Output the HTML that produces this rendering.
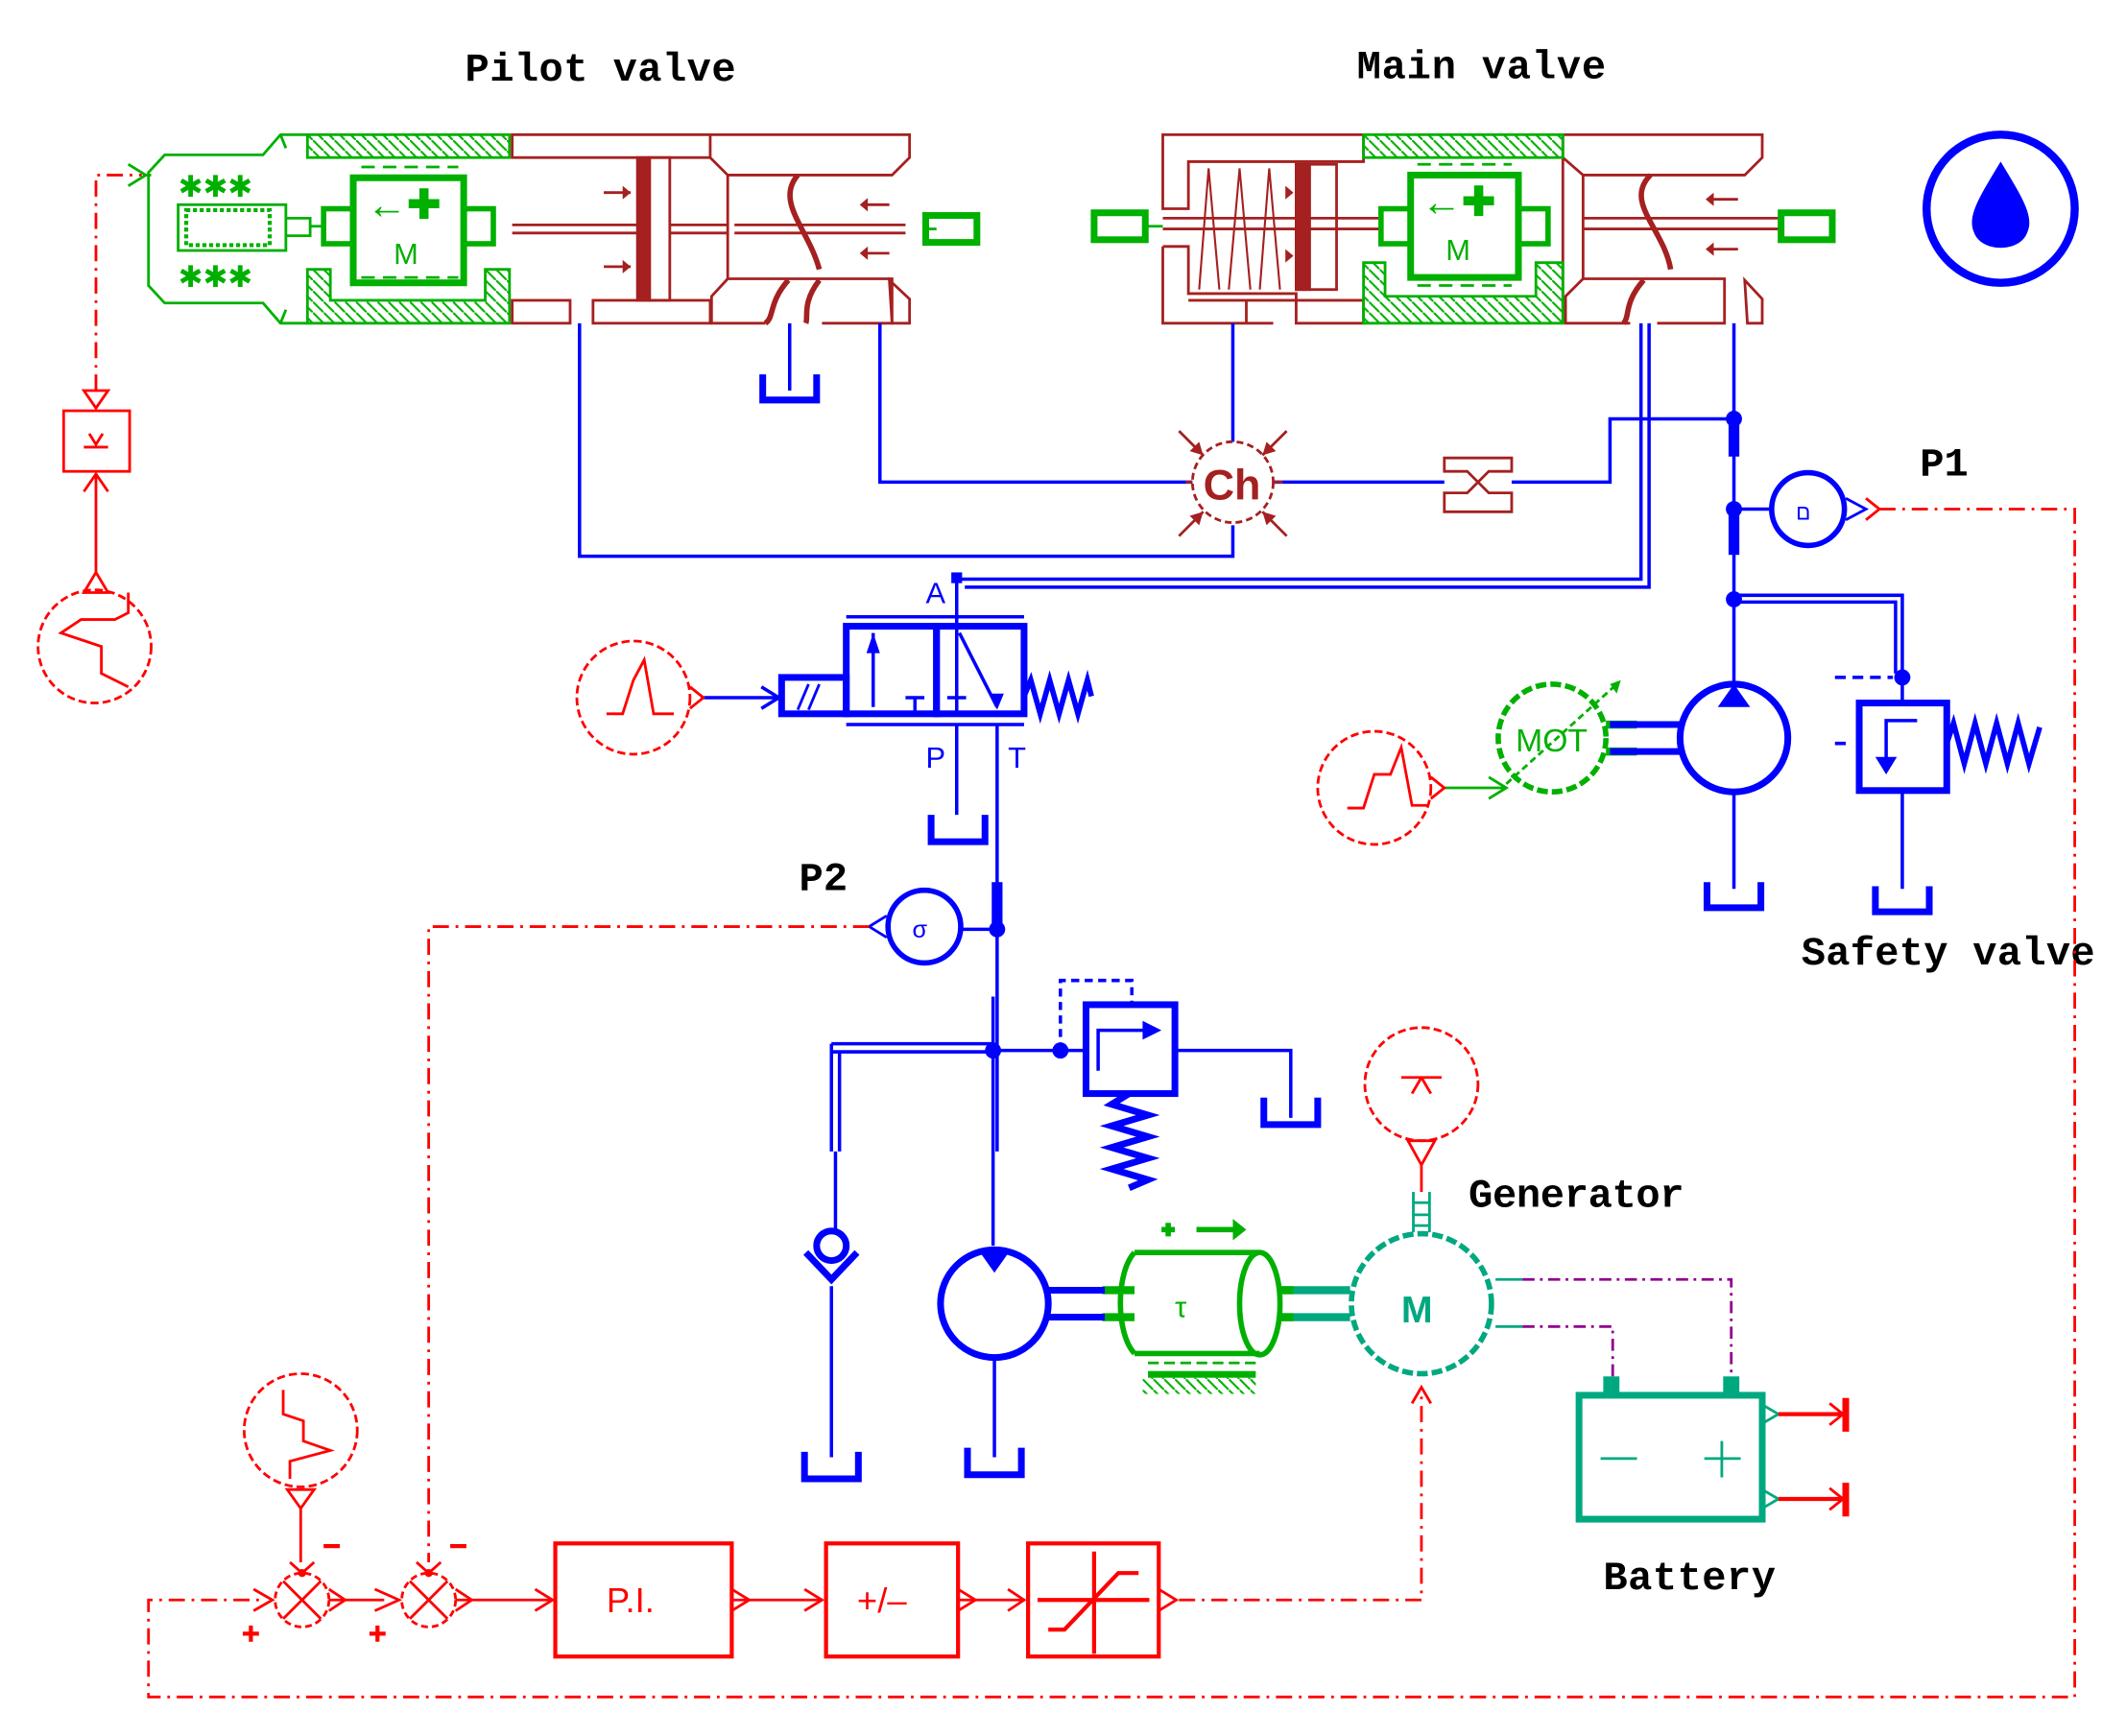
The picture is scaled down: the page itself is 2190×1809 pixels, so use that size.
<!DOCTYPE html>
<html><head><meta charset="utf-8"><style>html,body{margin:0;padding:0;background:#fff}svg{display:block}</style></head><body>
<svg width="2190" height="1809" viewBox="0 0 1560 1289" xmlns="http://www.w3.org/2000/svg">
<defs>
<pattern id="h" width="8" height="8" patternUnits="userSpaceOnUse"><path d="M0,0 L8,8" stroke="#00b000" stroke-width="1.5"/></pattern>
</defs>
<g font-family="Liberation Mono, monospace" font-weight="bold" font-size="30" fill="#000">
<text x="345" y="60" textLength="201">Pilot valve</text>
<text x="1007" y="58" textLength="185">Main valve</text>
<text x="1425" y="353">P1</text>
<text x="593" y="661">P2</text>
<text x="1337" y="716" textLength="218">Safety valve</text>
<text x="1090" y="896" textLength="160">Generator</text>
<text x="1190" y="1180" textLength="128">Battery</text>
</g>

<!-- PILOT VALVE -->
<g fill="none" stroke="#00b000" stroke-width="2">
<path d="M228,100 L208,100 L195,115 L122,115 L110,128 L110,212 L122,225 L195,225 L208,240 L228,240"/>
<rect x="228" y="100" width="150" height="17" fill="url(#h)"/>
<path d="M228,200 L245,200 L245,223 L360,223 L360,200 L378,200 L378,240 L228,240 Z" fill="url(#h)"/>
<rect x="262" y="132" width="82" height="78" stroke-width="5"/>
<rect x="240" y="155" width="22" height="26" stroke-width="4"/>
<rect x="344" y="155" width="22" height="26" stroke-width="4"/>
<path d="M268,124 H340 M268,206 H340" stroke-dasharray="10,6"/>
<rect x="132" y="152" width="80" height="34"/>
<rect x="138" y="156" width="62" height="26" stroke-dasharray="3,2" stroke-width="3"/>
<path d="M212,162 H230 V175 H212 M230,168 H240"/>
<path d="M685,170 H695"/>
<rect x="687" y="160" width="38" height="20" stroke-width="5"/>
<path d="M212,110 L208,100 M208,240 L212,230"/>
</g>
<g fill="#00b000" font-family="Liberation Sans, sans-serif" font-size="22">
<text x="292" y="196">M</text>
<text x="272" y="162" font-weight="bold" font-size="30">←✚</text>
<text x="132" y="146" font-size="22">✱✱✱</text>
<text x="132" y="213" font-size="22">✱✱✱</text>
</g>
<g fill="none" stroke="#a52020" stroke-width="2">
<rect x="380" y="100" width="147" height="17"/>
<path d="M527,100 H675 V117 L662,130 H540 V207 H662 V240 H610 M540,207 L528,220 V240 H568 M527,117 L540,130"/>
<rect x="380" y="223" width="43" height="17"/>
<rect x="440" y="223" width="87" height="17"/>
<rect x="473" y="117" width="9" height="106" fill="#a52020"/>
<rect x="482" y="117" width="15" height="106"/>
<path d="M380,167 H473 M380,173 H473 M497,167 H540 M497,173 H540 M545,167 H672 M545,173 H672"/>
<path d="M592,130 C575,150 600,170 608,200 M585,208 C570,225 575,235 568,240 M608,208 C595,225 600,235 598,240" stroke-width="4"/>
<path d="M660,208 L675,222 V240 H662 Z"/>
<path d="M448,143 H468 M448,198 H468 M640,152 H660 M640,188 H660"/>
</g>
<g fill="#a52020"><path d="M468,143 l-6,-5 v10z M468,198 l-6,-5 v10z M638,152 l6,-5 v10z M638,188 l6,-5 v10z"/></g>

<!-- MAIN VALVE -->
<g fill="none" stroke="#a52020" stroke-width="2">
<path d="M863,100 H1012 V120 H882 V155 H863 Z M863,183 H882 V218 H962 V240 H1012 V223 H882 M863,183 V240 H945 M925,240 V223"/>
<rect x="962" y="122" width="30" height="93"/>
<rect x="962" y="122" width="10" height="93" fill="#a52020"/>
<path d="M863,162 H1025 M863,170 H1025"/>
<path d="M890,215 L897,125 L905,215 M912,215 L920,125 L928,215 M935,215 L942,125 L950,215" stroke-width="1.5"/>
<path d="M1160,100 H1308 V117 L1295,130 H1175 V207 H1280 V240 H1230 M1175,207 L1162,220 V240 H1210 M1160,117 L1175,130 M1160,100 V240"/>
<path d="M1175,162 H1320 M1175,170 H1320"/>
<path d="M1225,130 C1205,150 1235,170 1240,200 M1220,208 C1205,225 1210,235 1205,240" stroke-width="4"/>
<path d="M1295,208 L1308,222 V240 H1297 Z"/>
<path d="M1268,148 H1290 M1268,185 H1290"/>
</g>
<g fill="#a52020"><path d="M1266,148 l6,-5 v10z M1266,185 l6,-5 v10z M960,143 l-6,-5 v10z M960,190 l-6,-5 v10z"/></g>
<g fill="none" stroke="#00b000" stroke-width="2">
<rect x="1012" y="100" width="148" height="17" fill="url(#h)"/>
<path d="M1012,195 H1028 V220 H1140 V195 H1160 V240 H1012 Z" fill="url(#h)"/>
<rect x="1047" y="130" width="80" height="76" stroke-width="5"/>
<rect x="1025" y="155" width="22" height="26" stroke-width="4"/>
<rect x="1127" y="155" width="22" height="26" stroke-width="4"/>
<path d="M1052,122 H1122 M1052,212 H1122" stroke-dasharray="10,6"/>
<rect x="812" y="158" width="38" height="20" stroke-width="5"/>
<path d="M850,168 H863"/>
<rect x="1322" y="158" width="38" height="20" stroke-width="5"/>
</g>
<g fill="#00b000" font-family="Liberation Sans, sans-serif" font-size="22">
<text x="1073" y="193">M</text>
<text x="1055" y="160" font-weight="bold" font-size="30">←✚</text>
</g>

<!-- water drop -->
<circle cx="1485" cy="155" r="55" fill="none" stroke="#0000ff" stroke-width="6"/>
<path d="M1485,120 C1470,145 1460,160 1465,172 C1470,188 1500,188 1505,172 C1510,160 1500,145 1485,120Z" fill="#0000ff"/>

<!-- BLUE HYDRAULIC LINES -->
<g fill="none" stroke="#0000ff" stroke-width="2.5">
<path d="M430,240 V413 H915 V390"/>
<path d="M653,240 V358 H885"/>
<path d="M945,358 H1072 M1122,358 H1195 V311 H1287"/>
<path d="M915,240 V328"/>
<path d="M1218,240 V430 H710 M1224,240 V436 H716"/>
<path d="M710,430 V530 M710,538 V605"/>
<path d="M740,538 V855"/>
<path d="M1287,240 V508"/>
<path d="M1287,378 H1314"/>
<path d="M1287,442 H1412 V503 M1287,447 H1407 V500"/>
<path d="M1412,503 V522 M1412,587 V660"/>
<path d="M1287,590 V660"/>
<path d="M740,690 H714"/>
<path d="M737,740 V925 M617,775 H737 M617,781 H737 M617,775 V855 M623,781 V855 M620,855 V915 M617,955 V1082"/>
<path d="M737,780 H806 M872,780 H958 V830"/>
<path d="M787,780 V728 H840 V746" stroke-dasharray="6,4"/>
<path d="M738,1008 V1082"/>
<path d="M1195,538 H1247 M1195,558 H1247"/>
<path d="M775,958 H835 M775,978 H835"/>
<path d="M1362,503 H1405 M1362,552 H1375" stroke-dasharray="8,5"/>
</g>
<g fill="#0000ff">
<circle cx="1287" cy="311" r="6"/><circle cx="1287" cy="378" r="6"/><circle cx="1287" cy="445" r="6"/>
<circle cx="1412" cy="503" r="6"/><circle cx="740" cy="690" r="6"/><circle cx="737" cy="780" r="6"/><circle cx="787" cy="780" r="6"/>
<rect x="1283" y="311" width="8" height="28"/><rect x="1283" y="382" width="8" height="30"/>
<rect x="736" y="655" width="8" height="34"/>
<rect x="706" y="425" width="8" height="8"/>
</g>
<!-- tanks -->
<g fill="none" stroke="#0000ff" stroke-width="5">
<path d="M566,278 V297 H606 V278"/>
<path d="M691,605 V625 H731 V605"/>
<path d="M1267,655 V674 H1307 V655"/>
<path d="M1392,658 V677 H1432 V658"/>
<path d="M938,815 V835 H978 V815"/>
<path d="M597,1078 V1098 H637 V1078"/>
<path d="M718,1075 V1095 H758 V1075"/>
</g>
<path d="M586,240 V290" stroke="#0000ff" stroke-width="2.5"/>
<!-- directional valve -->
<g fill="none" stroke="#0000ff">
<rect x="580" y="503" width="48" height="27" stroke-width="5"/>
<rect x="628" y="465" width="67" height="65" stroke-width="5"/>
<rect x="695" y="465" width="65" height="65" stroke-width="5"/>
<path d="M628,458 H760 M628,538 H760" stroke-width="2.5"/>
<path d="M592,527 L600,508 M600,527 L608,508" stroke-width="2"/>
<path d="M648,470 V525 M672,518 H686 M679,518 V528 M703,518 H717 M710,518 V528 M712,470 L740,525" stroke-width="2.5"/>
<path d="M760,517 L765,505 L772,530 L779,505 L786,530 L793,505 L800,530 L807,505 L810,517" stroke-width="4"/>
<path d="M520,518 H578 M565,510 L578,518 L565,526" stroke-width="2.5"/>
</g>
<path d="M643,485 L648,470 L653,485Z M735,515 L740,527 L745,515Z" fill="#0000ff"/>
<g fill="#0000ff" font-family="Liberation Sans, sans-serif" font-size="22"><text x="687" y="448">A</text><text x="687" y="570">P</text><text x="748" y="570">T</text></g>
<!-- pump top right -->
<circle cx="1287" cy="548" r="40" fill="none" stroke="#0000ff" stroke-width="5"/>
<path d="M1275,525 L1287,508 L1299,525Z" fill="#0000ff"/>
<!-- safety relief -->
<rect x="1380" y="522" width="65" height="65" fill="none" stroke="#0000ff" stroke-width="5"/>
<path d="M1423,535 H1400 V570" stroke="#0000ff" stroke-width="2.5" fill="none"/>
<path d="M1392,562 L1400,575 L1408,562Z" fill="#0000ff"/>
<path d="M1445,552 L1450,537 L1458,567 L1466,537 L1474,567 L1482,537 L1490,567 L1498,537 L1506,567 L1514,540" fill="none" stroke="#0000ff" stroke-width="4"/>
<!-- P1 sensor -->
<circle cx="1342" cy="378" r="27" fill="none" stroke="#0000ff" stroke-width="4"/>
<path d="M1370,370 L1385,378 L1370,386" fill="none" stroke="#0000ff" stroke-width="2"/>
<text x="1333" y="386" fill="#0000ff" font-family="Liberation Sans" font-size="16">ם</text>
<!-- P2 sensor -->
<circle cx="686" cy="688" r="27" fill="none" stroke="#0000ff" stroke-width="4"/>
<path d="M658,680 L645,688 L658,696" fill="none" stroke="#0000ff" stroke-width="2"/>
<text x="677" y="696" fill="#0000ff" font-family="Liberation Sans" font-size="18">σ</text>
<!-- relief lower -->
<rect x="806" y="746" width="66" height="66" fill="none" stroke="#0000ff" stroke-width="5"/>
<path d="M815,795 V765 H855" fill="none" stroke="#0000ff" stroke-width="2.5"/>
<path d="M848,758 L862,765 L848,772Z" fill="#0000ff"/>
<path d="M838,812 L825,820 L852,828 L825,836 L852,844 L825,852 L852,860 L825,868 L852,876 L838,882" fill="none" stroke="#0000ff" stroke-width="5"/>
<!-- check valve -->
<circle cx="617" cy="925" r="11" fill="none" stroke="#0000ff" stroke-width="5"/>
<path d="M598,930 L617,950 L636,930" fill="none" stroke="#0000ff" stroke-width="5"/>
<!-- pump lower -->
<circle cx="738" cy="968" r="40" fill="none" stroke="#0000ff" stroke-width="5"/>
<path d="M726,928 L738,945 L750,928Z" fill="#0000ff"/>

<!-- Ch & orifice -->
<circle cx="915" cy="358" r="30" fill="none" stroke="#a52020" stroke-width="2" stroke-dasharray="5,3"/>
<text x="893" y="371" fill="#a52020" font-family="Liberation Sans" font-weight="bold" font-size="32">Ch</text>
<g stroke="#a52020" stroke-width="2" fill="none">
<path d="M875,320 L893,338 M955,320 L937,338 M875,398 L893,380 M955,398 L937,380"/>
<path d="M885,358 H880 M945,358 H952"/>
<path d="M1072,340 H1122 V350 H1105 L1097,358 L1105,366 H1122 V380 H1072 V366 H1089 L1097,358 L1089,350 H1072 Z"/>
</g>
<g fill="#a52020"><path d="M893,338 l-3,-10 l-7,7z M937,338 l3,-10 l7,7z M893,380 l-3,10 l-7,-7z M937,380 l3,10 l7,-7z"/></g>

<!-- green motor MOT -->
<circle cx="1152" cy="548" r="40" fill="none" stroke="#00b000" stroke-width="4" stroke-dasharray="8,3"/>
<text x="1125" y="558" fill="#00b000" font-family="Liberation Sans" font-size="24">MOT</text>
<path d="M1118,582 L1200,508" stroke="#00b000" stroke-width="2" stroke-dasharray="5,3"/>
<path d="M1195,508 L1203,505 L1200,515Z" fill="#00b000"/>
<path d="M1192,538 H1215 M1192,558 H1215" stroke="#00b000" stroke-width="6"/>
<path d="M1195,538 H1247 M1195,558 H1247" stroke="#0000ff" stroke-width="5"/>
<path d="M1072,585 H1118 M1105,577 L1118,585 L1105,593" stroke="#00b000" stroke-width="2" fill="none"/>

<!-- green torque cylinder -->
<g fill="none" stroke="#00b000" stroke-width="4">
<path d="M842,930 H935 M842,1005 H935"/>
<path d="M842,930 C828,945 828,990 842,1005"/>
<ellipse cx="935" cy="968" rx="15" ry="38"/>
<path d="M818,958 H842 M818,978 H842" stroke-width="6"/>
<path d="M852,1012 H932" stroke-dasharray="8,4" stroke-width="2"/>
<rect x="852" y="1018" width="80" height="5" fill="#00b000" stroke="none"/>
<path d="M862,913 H872 M867,908 V918 M888,913 H918" stroke-width="4"/>
</g>
<path d="M915,905 L925,913 L915,921Z" fill="#00b000"/>
<rect x="848" y="1023" width="84" height="12" fill="url(#h)"/>
<text x="872" y="978" fill="#00b000" font-family="Liberation Sans" font-size="22">τ</text>
<path d="M775,958 H820 M775,978 H820" stroke="#0000ff" stroke-width="5"/>
<path d="M950,958 H1002 M950,978 H1002" stroke="#00a880" stroke-width="6"/>
<path d="M948,958 H960 M948,978 H960" stroke="#00b000" stroke-width="6"/>

<!-- generator -->
<circle cx="1055" cy="968" r="52" fill="none" stroke="#00a880" stroke-width="4" stroke-dasharray="8,3"/>
<text x="1040" y="982" fill="#00a880" font-family="Liberation Sans" font-weight="bold" font-size="28">M</text>
<path d="M1049,885 V915 M1061,885 V915 M1049,893 H1061 M1049,902 H1061 M1049,910 H1061" stroke="#00a880" stroke-width="2"/>
<circle cx="1055" cy="805" r="42" fill="none" stroke="#ff0000" stroke-width="2" stroke-dasharray="6,3"/>
<path d="M1040,800 H1070 M1055,800 L1048,812 M1055,800 L1062,812" stroke="#ff0000" stroke-width="2"/>
<path d="M1045,847 L1065,847 L1055,865Z M1055,865 V885" fill="none" stroke="#ff0000" stroke-width="2"/>
<path d="M1110,950 H1130 M1110,985 H1130" stroke="#00a880" stroke-width="2"/>
<path d="M1130,950 H1285 V1025 M1130,985 H1197 V1025" fill="none" stroke="#900090" stroke-width="2" stroke-dasharray="9,4,2,4"/>
<!-- battery -->
<rect x="1172" y="1036" width="136" height="92" fill="none" stroke="#00a880" stroke-width="5"/>
<rect x="1190" y="1022" width="12" height="14" fill="#00a880"/><rect x="1279" y="1022" width="12" height="14" fill="#00a880"/>
<path d="M1188,1083 H1215 M1265,1083 H1292 M1278,1070 V1097" stroke="#00a880" stroke-width="2"/>
<path d="M1308,1043 L1320,1050 L1308,1057 M1308,1106 L1320,1113 L1308,1120" fill="none" stroke="#00a880" stroke-width="2"/>
<path d="M1320,1050 H1370 M1320,1113 H1370" stroke="#ff0000" stroke-width="3"/>
<path d="M1370,1038 V1063 M1370,1101 V1126" stroke="#ff0000" stroke-width="5"/>
<path d="M1358,1042 L1368,1050 L1358,1058 M1358,1105 L1368,1113 L1358,1121" fill="none" stroke="#ff0000" stroke-width="2"/>

<!-- RED SIGNALS -->
<g fill="none" stroke="#ff0000" stroke-width="2">
<circle cx="70" cy="480" r="42" stroke-dasharray="6,3"/>
<path d="M95,440 V455 L85,460 H60 L45,470 L60,475 L75,480 V500 L95,510"/>
<path d="M62,440 L71,425 L80,440 Z"/>
<path d="M71,425 V352 M62,365 L71,352 L80,365"/>
<rect x="47" y="305" width="49" height="45"/>
<path d="M62,290 L71,303 L80,290 Z M62,332 H80 M66,322 L71,330 L76,322"/>
<path d="M71,290 V130 H105" stroke-dasharray="12,5,2,5"/>
<path d="M95,122 L108,130 L95,138" stroke="#00b000"/>
<path d="M108,130 H112" stroke="#00b000"/>
<circle cx="470" cy="518" r="42" stroke-dasharray="6,3"/>
<path d="M450,530 H462 L470,505 L478,490 L485,530 H500"/>
<path d="M512,510 L522,518 L512,526"/>
<circle cx="1020" cy="585" r="42" stroke-dasharray="6,3"/>
<path d="M1000,600 H1012 L1020,575 L1032,575 L1040,555 L1048,598 H1060"/>
<path d="M1062,577 L1072,585 L1062,593"/>
<path d="M1395,378 H1540 V1260 H110 V1188 H195" stroke-dasharray="12,5,2,5"/>
<path d="M1385,370 L1395,378 L1385,386"/>
<path d="M645,688 H318 V1160" stroke-dasharray="12,5,2,5"/>
<circle cx="223" cy="1062" r="42" stroke-dasharray="6,3"/>
<path d="M210,1032 V1050 L225,1055 V1070 L245,1077 L215,1085 V1098"/>
<path d="M213,1106 H233 L223,1120 Z M223,1120 V1160"/>
<circle cx="224" cy="1188" r="20" stroke-dasharray="5,3"/>
<circle cx="318" cy="1188" r="20" stroke-dasharray="5,3"/>
<path d="M210,1174 L238,1202 M238,1174 L210,1202 M304,1174 L332,1202 M332,1174 L304,1202"/>
<path d="M244,1188 H285 M338,1188 H410 M543,1188 H610 M711,1188 H760"/>
<path d="M875,1188 H1055 V1030" stroke-dasharray="12,5,2,5"/>
<path d="M1048,1042 L1055,1030 L1062,1042"/>
<path d="M244,1180 L256,1188 L244,1196 M338,1180 L350,1188 L338,1196 M543,1180 L556,1188 L543,1196 M711,1180 L724,1188 L711,1196 M860,1180 L873,1188 L860,1196"/>
<path d="M188,1180 L202,1188 L188,1196 M278,1180 L296,1188 L278,1196 M397,1180 L410,1188 L397,1196 M597,1180 L610,1188 L597,1196 M748,1180 L760,1188 L748,1196"/>
<path d="M215,1160 L224,1168 L233,1160 M309,1160 L318,1168 L327,1160"/>
<rect x="412" y="1146" width="131" height="84" stroke-width="3"/>
<rect x="613" y="1146" width="98" height="84" stroke-width="3"/>
<rect x="763" y="1146" width="97" height="84" stroke-width="3"/>
<path d="M770,1188 H853 M812,1152 V1228 M778,1210 H790 L830,1168 H845" stroke-width="3"/>
<path d="M240,1148 H252 M334,1148 H346 M180,1213 H192 M186,1207 V1219 M274,1213 H286 M280,1207 V1219" stroke-width="3"/>
</g>
<circle cx="224" cy="1168" r="3" fill="#ff0000"/><circle cx="318" cy="1168" r="3" fill="#ff0000"/>
<g fill="#ff0000" font-family="Liberation Sans, sans-serif" font-size="26">
<text x="450" y="1197">P.I.</text>
<text x="636" y="1197">+/–</text>
</g>
</svg>
</body></html>
